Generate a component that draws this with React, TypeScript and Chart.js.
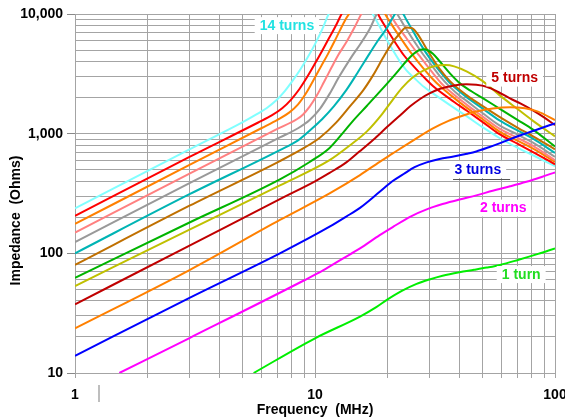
import { useEffect, useRef } from 'react';
import { Chart, registerables } from 'chart.js';

Chart.register(...registerables);

const FONT = 'Arial, "Liberation Sans", Helvetica, sans-serif';

// Axis ticks (log grid) and which ones carry labels
const FREQ_TICKS = [1, 2, 3, 4, 5, 6, 7, 8, 9, 10, 20, 30, 40, 50, 60, 70, 80, 90, 100];
const FREQ_LABELED = [1, 10, 100];
const IMP_TICKS = [10, 20, 30, 40, 50, 60, 70, 80, 90, 100, 200, 300, 400, 500, 600, 700, 800, 900,
  1000, 2000, 3000, 4000, 5000, 6000, 7000, 8000, 9000, 10000];
const IMP_LABELED = [10, 100, 1000, 10000];

const X_TITLE = 'Frequency  (MHz)';
const Y_TITLE = 'Impedance  (Ohms)';

// [frequency MHz, impedance Ohms]
const turns1: [number, number][] = [[5.55, 10], [10, 19.5], [15.4, 29.6], [18, 35.5], [20, 41], [23, 48.5], [26.5, 55.5], [30, 60.5], [34, 65], [40, 69.5], [46, 72.8], [52, 76], [59, 80], [70, 88], [85, 99], [100, 110]];
const turns2: [number, number][] = [[1.53, 10], [3, 19.6], [8.94, 59], [10.8, 72], [13, 90], [15.4, 110], [18.6, 142], [21.2, 167], [25, 203], [29.2, 233], [34, 258], [40, 282], [47, 305], [55, 333], [65, 363], [76, 396], [88, 435], [100, 475]];
const turns3: [number, number][] = [[1, 13.9], [3, 42.5], [7.14, 100], [11.5, 167], [13.5, 203], [15.4, 240], [18.6, 327], [21, 400], [23.4, 460], [26, 525], [29.2, 576], [33, 615], [37.8, 645], [43, 680], [47, 710], [53, 770], [58.7, 830], [69, 942], [85, 1090], [100, 1220]];
const turns4: [number, number][] = [[1, 23.6], [3, 72.5], [7.14, 190], [11.5, 317], [15.4, 451], [18.6, 582], [21, 680], [25, 850], [31, 1107], [36, 1280], [40, 1384], [47, 1530], [55, 1626], [65, 1665], [75, 1630], [85, 1530], [100, 1300]];
const turns5: [number, number][] = [[1, 37.5], [3, 116], [7.14, 284], [10, 400], [11.5, 470], [13.5, 575], [15.4, 715], [17.5, 890], [20, 1140], [22.6, 1420], [25, 1700], [27.4, 1950], [30, 2170], [33.2, 2370], [38, 2530], [42.8, 2583], [47, 2560], [51.9, 2465], [58, 2230], [64.9, 1972], [72, 1780], [81.2, 1560], [90, 1370], [100, 1180]];
const turns6: [number, number][] = [[1, 53.3], [3, 158], [7.14, 370], [11.5, 600], [14, 800], [16.5, 1050], [19, 1450], [21, 1900], [23, 2400], [25.5, 2950], [28.5, 3400], [32, 3700], [35, 3741], [38, 3650], [43, 3300], [50, 2750], [58.7, 2100], [70, 1600], [81, 1280], [100, 950]];
const turns7: [number, number][] = [[1, 62.5], [3, 181], [7.14, 415], [9.5, 580], [11.5, 760], [13.1, 1020], [14.4, 1280], [16.5, 1720], [19.2, 2400], [21.5, 3100], [23.4, 3800], [25, 4400], [26.5, 4850], [27.5, 5020], [28.5, 5070], [29.5, 4980], [31, 4650], [33, 4050], [36.5, 3192], [40.2, 2632], [45, 2250], [50, 1980], [58.7, 1620], [70, 1300], [81, 1080], [100, 780]];
const turns8: [number, number][] = [[1, 80], [3, 250], [7.14, 590], [9, 760], [10.5, 930], [12.3, 1250], [14, 1700], [15.9, 2312], [17.5, 3100], [19.2, 4300], [20.8, 5600], [22.6, 6900], [24, 7700], [25.3, 7650], [26.5, 7000], [28, 5900], [29.2, 5100], [33, 3500], [36.5, 2750], [42.8, 2100], [50, 1700], [58.7, 1384], [70, 1120], [81, 950], [100, 740]];
const turns9: [number, number][] = [[1, 100], [3, 312], [7.14, 730], [8.5, 880], [9.7, 1100], [10.7, 1320], [12, 1700], [13.5, 2312], [15, 3200], [16.9, 4688], [18.3, 6000], [19.9, 7600], [21, 9200], [22, 10400], [23, 10300], [24, 9000], [25.5, 7300], [27.5, 5600], [30, 4300], [33, 3350], [36.5, 2650], [40, 2250], [42.8, 2020], [50, 1620], [58.7, 1290], [70, 1060], [81, 910], [100, 690]];
const turns10: [number, number][] = [[1, 124], [3, 386], [7.14, 930], [8.5, 1110], [9.5, 1300], [10.5, 1620], [11.5, 2150], [12.6, 2985], [14, 4200], [15.5, 5675], [16.9, 7500], [18.1, 10000], [20, 13000], [22, 10000], [23.5, 8000], [25.5, 6200], [28, 4700], [31, 3600], [33, 3050], [36.5, 2450], [40, 2080], [42.8, 1880], [50, 1480], [58.7, 1172], [70, 980], [81, 840], [100, 640]];
const turns11: [number, number][] = [[1, 149], [3, 464], [7, 1100], [8.4, 1320], [8.9, 1440], [9.5, 1680], [10.2, 2100], [10.9, 2700], [11.7, 3550], [12.5, 4550], [13.5, 5800], [14.6, 7700], [15.6, 10000], [17.5, 14000], [19, 13500], [20.5, 10000], [22, 8000], [24, 6300], [26.5, 4800], [29, 3800], [31, 3200], [33.5, 2650], [36.5, 2260], [42.8, 1750], [50, 1390], [58.7, 1100], [70, 920], [81, 790], [100, 600]];
const turns12: [number, number][] = [[1, 176], [3, 548], [6, 1115], [7, 1310], [7.8, 1500], [8.5, 1760], [9.2, 2200], [9.9, 2850], [10.6, 3650], [11.3, 4600], [12, 5800], [12.7, 7300], [13.4, 9000], [14, 10300], [15.5, 13500], [17, 15500], [18.3, 13500], [19.6, 10000], [21, 8000], [22.5, 6500], [25, 4800], [28, 3600], [31, 2850], [33.5, 2450], [36.5, 2120], [42.8, 1650], [50, 1320], [58.7, 1040], [70, 870], [81, 750], [100, 580]];
const turns13: [number, number][] = [[1, 206], [3, 640], [5.8, 1240], [6.6, 1420], [7.3, 1630], [7.9, 1900], [8.6, 2350], [9.3, 3000], [10, 3850], [10.7, 4900], [11.4, 6200], [12.1, 7700], [12.9, 10000], [14, 13500], [15.8, 16500], [17, 14000], [18.3, 10000], [19.5, 8000], [21, 6300], [23.5, 4500], [25, 3900], [27, 3300], [29, 2850], [31, 2500], [36.5, 1950], [42.8, 1560], [50, 1250], [58.7, 990], [70, 820], [81, 700], [100, 555]];
const turns14: [number, number][] = [[1, 238], [3, 740], [5, 1250], [5.7, 1450], [6.3, 1640], [6.9, 1900], [7.5, 2280], [8.1, 2800], [8.7, 3450], [9.3, 4300], [10, 5600], [10.7, 7400], [11.4, 10000], [12.5, 13500], [14, 16000], [15.5, 14000], [17.4, 10000], [18.5, 8000], [20, 6000], [22.6, 4000], [24, 3400], [26, 2900], [28.5, 2450], [31, 2173], [36.5, 1733], [42.8, 1400], [50, 1130], [58.7, 920], [70, 760], [81, 660], [100, 535]];

const SERIES_NAMES = ['1 turn', '2 turns', '3 turns', '4 turns', '5 turns', '6 turns', '7 turns',
  '8 turns', '9 turns', '10 turns', '11 turns', '12 turns', '13 turns', '14 turns'];
const SERIES_DATA = [turns1, turns2, turns3, turns4, turns5, turns6, turns7,
  turns8, turns9, turns10, turns11, turns12, turns13, turns14];
const SERIES_COLORS = ['#00ee00', '#ff00ff', '#0000ff', '#ff8000', '#c00000', '#c0c000', '#00b400',
  '#c07000', '#00b4b4', '#999999', '#ff8080', '#ff8000', '#ff0000', '#80ffff'];

// In-plot curve labels: text, colour, anchor in data coordinates
const CURVE_LABELS = [
  { text: '14 turns', color: '#22e2e2', f: 7.64, z: 8075 },
  { text: '5 turns', color: '#c00000', f: 67.9, z: 2943 },
  { text: '3 turns', color: '#0000e0', f: 47.7, z: 506 },
  { text: '2 turns', color: '#ff00ff', f: 60.9, z: 241 },
  { text: '1 turn', color: '#22dd22', f: 72.3, z: 67.1 },
];
// darker grid segment under "3 turns" [f0, f1, z]
const UNDERLINE = [37.6, 65.0, 415];

const overlayPlugin = {
  id: 'overlay',
  afterDatasetsDraw(chart: any) {
    const { ctx, scales } = chart;
    const xs = scales.x;
    const ys = scales.y;
    ctx.save();
    ctx.font = `bold 14px ${FONT}`;
    ctx.textAlign = 'center';
    ctx.textBaseline = 'middle';
    for (const lab of CURVE_LABELS) {
      const px = xs.getPixelForValue(lab.f);
      const py = ys.getPixelForValue(lab.z);
      const w = ctx.measureText(lab.text).width;
      ctx.fillStyle = '#ffffff';
      ctx.fillRect(px - w / 2 - 5, py - 8, w + 10, 17);
      ctx.fillStyle = lab.color;
      ctx.fillText(lab.text, px, py + 1);
    }
    const uy = Math.round(ys.getPixelForValue(UNDERLINE[2])) + 0.5;
    ctx.strokeStyle = '#555555';
    ctx.lineWidth = 1;
    ctx.beginPath();
    ctx.moveTo(xs.getPixelForValue(UNDERLINE[0]), uy);
    ctx.lineTo(xs.getPixelForValue(UNDERLINE[1]), uy);
    ctx.stroke();
    ctx.restore();
  },
  afterDraw(chart: any) {
    const { ctx, chartArea } = chart;
    ctx.save();
    ctx.fillStyle = '#000000';
    ctx.font = `bold 14px ${FONT}`;
    ctx.textAlign = 'center';
    ctx.textBaseline = 'alphabetic';
    ctx.fillText(X_TITLE, (chartArea.left + chartArea.right) / 2, chartArea.bottom + 41);
    // small stray mark below the axis, as in the original scan
    ctx.strokeStyle = '#a8a8a8';
    ctx.lineWidth = 1.5;
    ctx.beginPath();
    ctx.moveTo(chartArea.left + 24, chartArea.bottom + 12);
    ctx.lineTo(chartArea.left + 24, chartArea.bottom + 29);
    ctx.stroke();
    ctx.translate(20, (chartArea.top + chartArea.bottom) / 2 + 27);
    ctx.rotate(-Math.PI / 2);
    ctx.fillText(Y_TITLE, 0, 0);
    ctx.restore();
  },
};

export default function App() {
  const canvasRef = useRef<HTMLCanvasElement | null>(null);

  useEffect(() => {
    const canvas = canvasRef.current;
    if (!canvas) return;
    const datasets = SERIES_DATA.map((pts, i) => ({
      label: SERIES_NAMES[i],
      data: pts.map(([f, z]) => ({ x: f, y: z })),
      borderColor: SERIES_COLORS[i],
      backgroundColor: SERIES_COLORS[i],
      borderWidth: 2,
      pointRadius: 0,
      fill: false,
      cubicInterpolationMode: 'monotone' as const,
    }));

    const chart = new Chart(canvas, {
      type: 'line',
      data: { datasets },
      options: {
        responsive: false,
        animation: false,
        devicePixelRatio: 1,
        layout: { padding: { top: 14, right: 10, left: 0, bottom: 0 } },
        plugins: { legend: { display: false }, tooltip: { enabled: false } },
        scales: {
          x: {
            type: 'logarithmic',
            min: 1,
            max: 100,
            afterBuildTicks: (s: any) => { s.ticks = FREQ_TICKS.map((v) => ({ value: v })); },
            afterFit: (s: any) => { s.height = 45; s.paddingLeft = 0; s.paddingRight = 0; },
            grid: { color: '#a4a4a4', lineWidth: 1, tickLength: 5, tickColor: '#a4a4a4' },
            border: { color: '#a4a4a4' },
            ticks: {
              autoSkip: false,
              maxRotation: 0,
              padding: 9,
              color: '#000000',
              font: { family: FONT, size: 14, weight: 'bold' },
              callback: (v: any) => (FREQ_LABELED.includes(Number(v)) ? String(v) : ''),
            },
          },
          y: {
            type: 'logarithmic',
            min: 10,
            max: 10000,
            afterBuildTicks: (s: any) => { s.ticks = IMP_TICKS.map((v) => ({ value: v })); },
            afterFit: (s: any) => { s.width = 75; s.paddingTop = 0; s.paddingBottom = 0; },
            grid: {
              color: '#a4a4a4',
              lineWidth: 1,
              tickLength: 8,
              tickColor: (c: any) => (IMP_LABELED.includes(c.tick?.value) ? '#888888' : 'rgba(0,0,0,0)'),
            },
            border: { color: '#a4a4a4' },
            ticks: {
              autoSkip: false,
              padding: 4,
              color: '#000000',
              font: { family: FONT, size: 14, weight: 'bold' },
              callback: (v: any) => (IMP_LABELED.includes(Number(v)) ? Number(v).toLocaleString('en-US') : ''),
            },
          },
        },
      },
      plugins: [overlayPlugin],
    } as any);

    return () => chart.destroy();
  }, []);

  return (
    <div style={{ position: 'absolute', left: 0, top: 0, width: 565, height: 418, background: '#ffffff' }}>
      <canvas ref={canvasRef} width={565} height={418} style={{ display: 'block' }} />
    </div>
  );
}
